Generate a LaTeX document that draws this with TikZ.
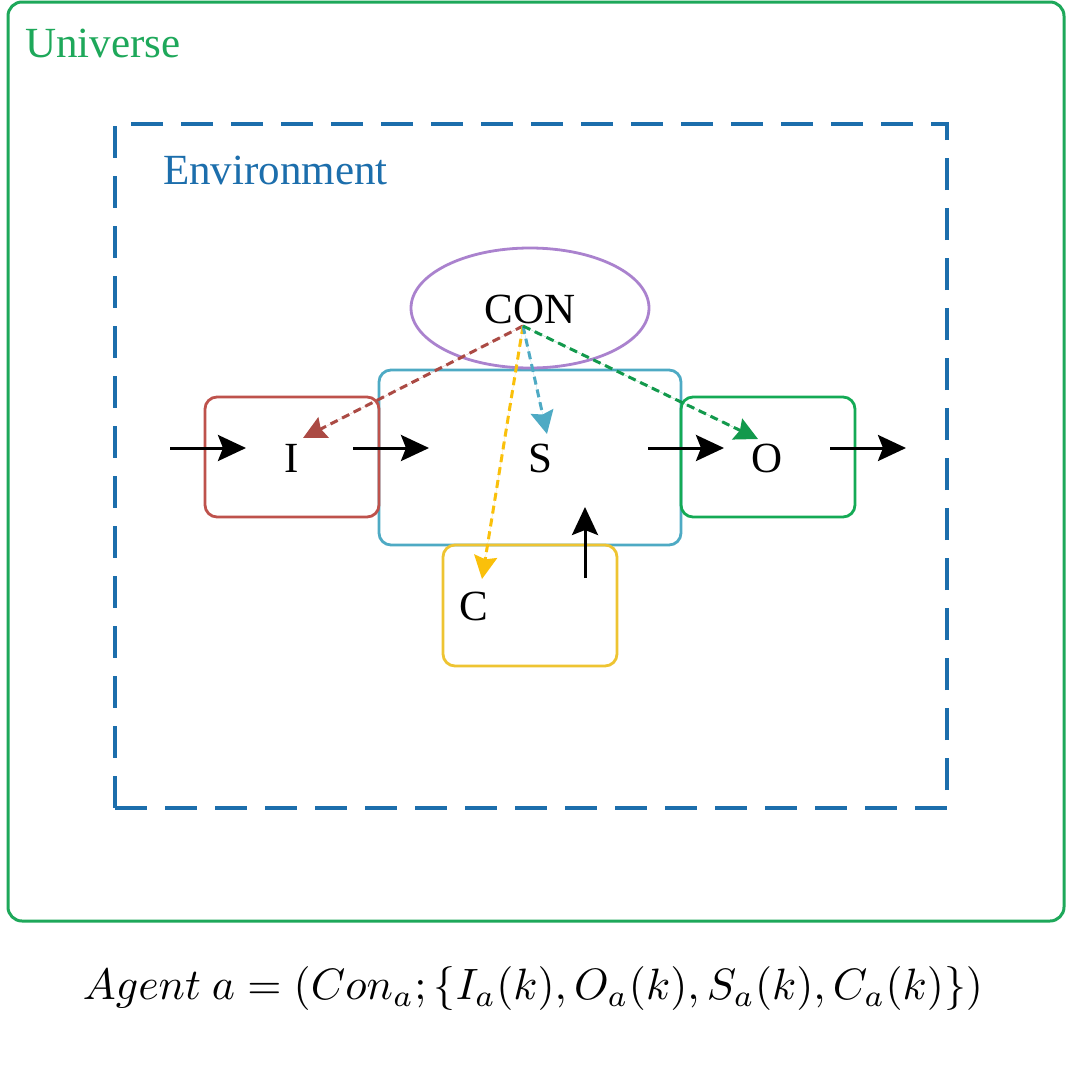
\documentclass[tikz,border=0pt]{standalone}
\usepackage{fontspec}
\setmainfont{Liberation Serif}
\usetikzlibrary{arrows.meta,shapes.geometric}
\definecolor{univgreen}{RGB}{30,168,90}
\definecolor{envblue}{RGB}{28,110,172}
\definecolor{ibrown}{RGB}{190,82,76}
\definecolor{steal}{RGB}{78,170,196}
\definecolor{ogreen}{RGB}{20,170,85}
\definecolor{cyellow}{RGB}{238,196,50}
\definecolor{ayellow}{RGB}{250,192,10}
\definecolor{conpurple}{RGB}{170,130,206}
\begin{document}
\begin{tikzpicture}[x=1pt,y=-1pt,
  lbl/.style={font=\fontsize{43}{50}\selectfont, inner sep=0pt},
  boxshape/.style={draw, rectangle, rounded corners=12pt, line width=2.8pt, inner sep=0pt},
  flow/.style={line width=3pt, -{Stealth[length=28pt,width=26pt,inset=5pt]}},
  ctrl/.style={line width=3pt, dash pattern=on 8pt off 5pt, -{Stealth[length=23pt,width=23pt,inset=3pt]}}
]
\useasboundingbox (0,0) rectangle (1080,1066);
\fill[white] (0,0) rectangle (1080,1066);

% Universe
\node[boxshape, draw=univgreen, line width=3pt, minimum width=1056pt, minimum height=919pt, rounded corners=14pt] (universe) at (536,461.5) {};
\node[lbl, text=univgreen, anchor=base west] (univlbl) at (25,57) {Universe};

% Environment
\node[draw=envblue, rectangle, line width=3.5pt, dash pattern=on 32pt off 18pt, minimum width=832pt, minimum height=684pt, inner sep=0pt] (env) at (531,466) {};
\node[lbl, text=envblue, anchor=base west] (envlbl) at (163,184) {Environment};

% Boxes
\node[boxshape, draw=steal, minimum width=302pt, minimum height=175pt] (sbox) at (530,457.5) {};
\node[boxshape, draw=ibrown, minimum width=174pt, minimum height=120pt] (ibox) at (292,457) {};
\node[boxshape, draw=ogreen, minimum width=174pt, minimum height=120pt] (obox) at (768,457) {};
\node[boxshape, draw=cyellow, minimum width=174pt, minimum height=121pt] (cbox) at (530,605.5) {};
\node[draw=conpurple, ellipse, line width=2.8pt, minimum width=238pt, minimum height=120pt, inner sep=0pt] (con) at (530,308) {};

% Labels
\node[lbl, anchor=base] (conlbl) at (530,323) {CON};
\node[lbl, anchor=base] (ilbl) at (292,472) {I};
\node[lbl, anchor=base] (slbl) at (540,472) {S};
\node[lbl, anchor=base] (olbl) at (767,472) {O};
\node[lbl, anchor=base] (clbl) at (474,620) {C};

% Flow arrows
\coordinate (a1s) at (170,448); \coordinate (a1e) at (246,448);
\coordinate (a2s) at (353,448); \coordinate (a2e) at (429,448);
\coordinate (a3s) at (648,448); \coordinate (a3e) at (724,448);
\coordinate (a4s) at (830,448); \coordinate (a4e) at (906,448);
\coordinate (a5s) at (585,578); \coordinate (a5e) at (585,507);
\draw[flow] (a1s) -- (a1e);
\draw[flow] (a2s) -- (a2e);
\draw[flow] (a3s) -- (a3e);
\draw[flow] (a4s) -- (a4e);
\draw[flow] (a5s) -- (a5e);

% Control arrows
\coordinate (cp) at (523,326);
\coordinate (ti) at (303,438);
\coordinate (ts) at (547,434);
\coordinate (to) at (758,439);
\coordinate (tc) at (482,579);
\draw[ctrl, draw=ibrown!90!black, fill=ibrown] (cp) -- (ti);
\draw[ctrl, draw=ayellow, fill=ayellow] (cp) -- (tc);
\draw[ctrl, draw=steal, fill=steal] (cp) -- (ts);
\draw[ctrl, draw=ogreen!90!black, fill=ogreen] (cp) -- (to);

% Formula
\node[inner sep=0pt] (formula) at (533,989) {\resizebox{900pt}{!}{$Agent\ a = (Con_a; \{I_a(k), O_a(k), S_a(k), C_a(k)\})$}};
\end{tikzpicture}
\end{document}
